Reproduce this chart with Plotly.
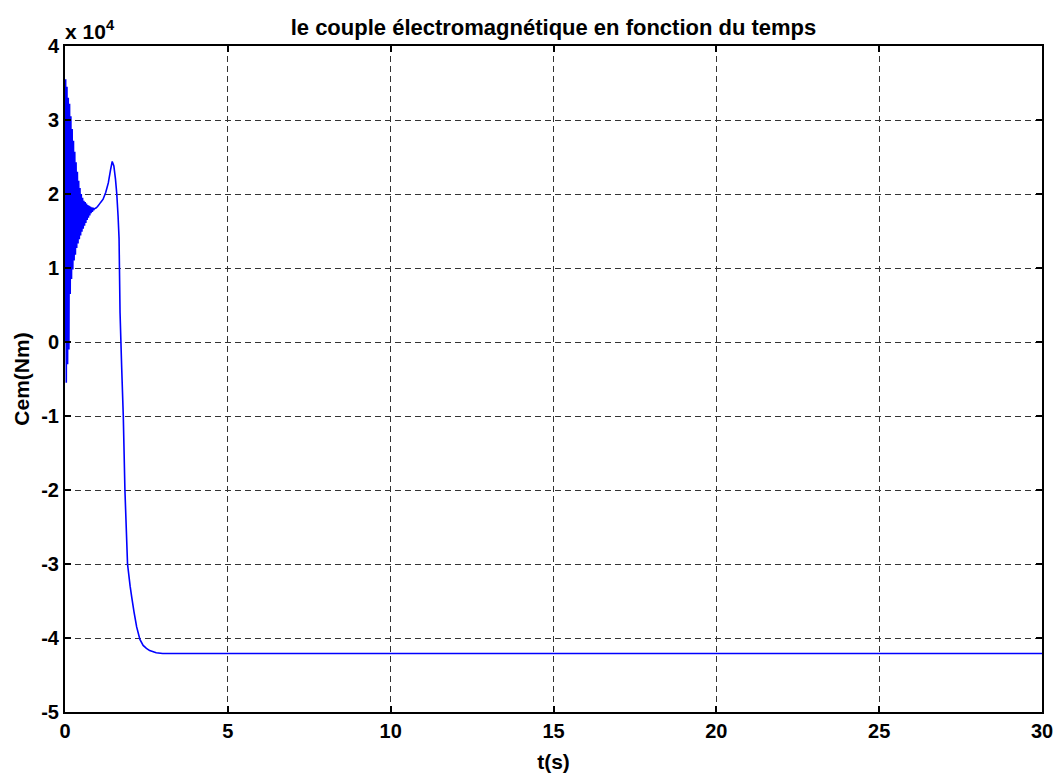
import plotly.graph_objects as go

# time (s) and torque (x 1e4 N.m)
t_osc = [0.00, 0.02, 0.04, 0.06, 0.08, 0.10, 0.12, 0.14, 0.16, 0.18, 0.20, 0.22, 0.24, 0.26, 0.28,
         0.30, 0.32, 0.34, 0.36, 0.38, 0.40, 0.42, 0.44, 0.46, 0.48, 0.50, 0.52, 0.54, 0.56, 0.58,
         0.60, 0.62, 0.64, 0.66, 0.68, 0.70, 0.72, 0.74, 0.76, 0.78, 0.80, 0.82, 0.84, 0.86, 0.88, 0.90]
c_osc = [0.0, 3.55, -0.55, 3.45, -0.3, 3.3, -0.1, 3.22, 0.65, 3.05, 0.85, 2.88, 0.98, 2.72, 1.10,
         2.57, 1.18, 2.43, 1.27, 2.30, 1.33, 2.18, 1.39, 2.08, 1.44, 2.00, 1.49, 1.95, 1.53, 1.91,
         1.57, 1.89, 1.61, 1.87, 1.65, 1.85, 1.68, 1.84, 1.71, 1.83, 1.74, 1.82, 1.76, 1.815, 1.78, 1.80]
t_tail = [0.95, 1.00, 1.05, 1.10, 1.17, 1.25, 1.33, 1.40, 1.45, 1.50, 1.55, 1.59, 1.63, 1.66, 1.69,
          1.74, 1.79, 1.84, 1.92, 2.00, 2.05, 2.12, 2.20, 2.30, 2.40, 2.50, 2.60, 2.80, 3.00, 30.0]
c_tail = [1.81, 1.83, 1.86, 1.89, 1.93, 2.02, 2.15, 2.33, 2.44, 2.38, 2.20, 2.00, 1.70, 1.40, 0.40,
          -0.34, -1.00, -2.00, -3.00, -3.30, -3.45, -3.65, -3.85, -4.02, -4.10, -4.14, -4.17, -4.20, -4.21, -4.21]

x_ticks = [0, 5, 10, 15, 20, 25, 30]
y_ticks = [-5, -4, -3, -2, -1, 0, 1, 2, 3, 4]

t = t_osc + t_tail
cem = c_osc + c_tail

FONT = "Liberation Sans, Arial, sans-serif"

fig = go.Figure()
fig.add_trace(go.Scatter(x=t, y=cem, mode="lines",
                         line=dict(color="#0000ff", width=1.6, simplify=False), hoverinfo="skip"))

axis_common = dict(
    showline=True, linecolor="black", linewidth=2, mirror="ticks",
    ticks="inside", ticklen=6, tickcolor="black", tickwidth=1.5,
    showgrid=True, gridcolor="#333333", griddash="6px,4px", gridwidth=1,
    zeroline=False, automargin=False,
    tickfont=dict(family=FONT, size=20, color="black", weight="bold"),
)

W, H = 1055, 767  # page body has an 8px margin
fig.update_layout(
    width=W, height=H,
    margin=dict(l=57, r=21, t=38, b=63),
    paper_bgcolor="white", plot_bgcolor="white",
    showlegend=False,
    title=dict(text="le couple électromagnétique en fonction du temps",
               x=(57 + W - 21) / 2 / W, xanchor="center", y=1 - 19 / H, yanchor="middle",
               font=dict(family=FONT, size=22, color="black", weight="bold")),
    xaxis=dict(range=[0, 30], tickvals=x_ticks, ticktext=[str(v) for v in x_ticks],
               title=dict(text="t(s)", standoff=13,
                          font=dict(family=FONT, size=21, color="black", weight="bold")),
               **axis_common),
    yaxis=dict(range=[-5, 4], tickvals=y_ticks, ticktext=[str(v) for v in y_ticks],
               title=dict(text="Cem(Nm)", standoff=6,
                          font=dict(family=FONT, size=21, color="black", weight="bold")),
               **axis_common),
)

fig.add_annotation(text="x 10<sup>4</sup>", xref="paper", yref="paper", x=0, y=1,
                   xanchor="left", yanchor="bottom", showarrow=False, yshift=1, xshift=-2,
                   font=dict(family=FONT, size=21, color="black", weight="bold"))

fig.write_html("out.html")
